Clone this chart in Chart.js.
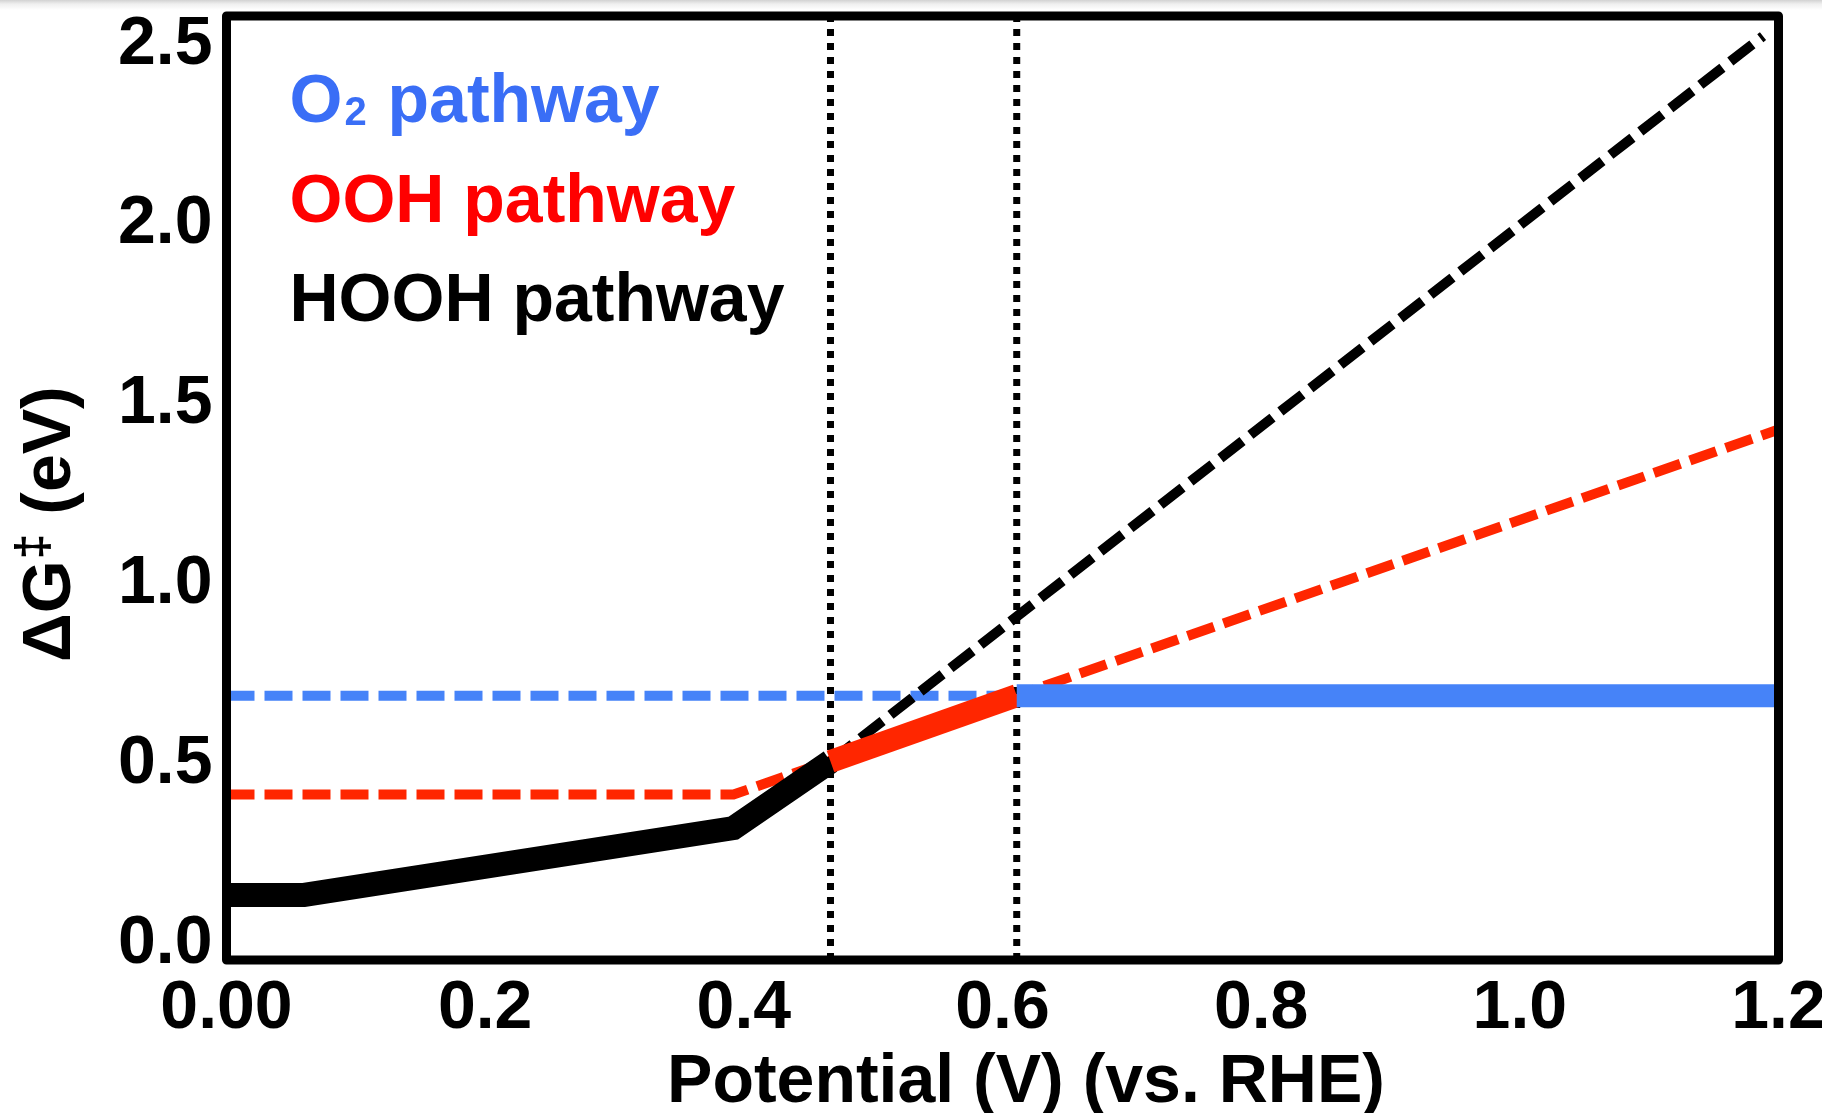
<!DOCTYPE html>
<html>
<head>
<meta charset="utf-8">
<script src="https://cdn.jsdelivr.net/npm/chart.js@4.4.1/dist/chart.umd.min.js"></script>
<style>
    html, body {
        margin: 0;
        padding: 0;
        background: linear-gradient(to bottom, #d2d2d2 0px, #efefef 4px, #ffffff 10px);
    }
    #wrap {
        width: 1822px;
        height: 1113px;
        position: relative;
    }
</style>
</head>
<body>
<div id="wrap"><canvas id="barrierChart"></canvas></div>
<script>
const FONT = '"Liberation Sans", Arial, Helvetica, sans-serif';

// axis limits and ticks
const xMin = 0;
const xMax = 1.2;
const yMin = -0.045;
const yMax = 2.58;
const xTickValues = [0, 0.2, 0.4, 0.6, 0.8, 1.0, 1.2];
const xTickLabels = ['0.00', '0.2', '0.4', '0.6', '0.8', '1.0', '1.2'];
const yTickValues = [0, 0.5, 1.0, 1.5, 2.0, 2.5];
const yTickLabels = ['0.0', '0.5', '1.0', '1.5', '2.0', '2.5'];

// potential (V) / barrier (eV) pairs
const hoohSolidV = [0, 0.06, 0.392, 0.467];
const hoohSolidG = [0.136, 0.136, 0.322, 0.507];
const hoohDashV = [0.467, 1.188];
const hoohDashG = [0.507, 2.524];
const oohSolidV = [0.467, 0.611];
const oohSolidG = [0.507, 0.69];
const oohDashV = [0, 0.392, 1.2];
const oohDashG = [0.415, 0.415, 1.43];
const o2SolidV = [0.611, 1.2];
const o2SolidG = [0.69, 0.69];
const o2DashV = [0, 0.611];
const o2DashG = [0.69, 0.69];
const crossoverV = [0.467, 0.611];

const pathwayNames = ['O2', 'OOH', 'HOOH'];
const pathwayColors = ['#3a6ef6', '#ff0000', '#000000'];

const BLUE = '#4683f8';
const RED = '#ff2600';
const BLACK = '#000000';

const pts = (xs, ys) => xs.map((x, i) => ({ x, y: ys[i] }));

function series(xs, ys, color, width, dash) {
    return {
        data: pts(xs, ys),
        borderColor: color,
        backgroundColor: color,
        borderWidth: width,
        borderDash: dash || [],
        borderCapStyle: 'butt',
        borderJoinStyle: 'miter',
        pointRadius: 0,
        fill: false,
        tension: 0,
    };
}

// frame, legend text and axis titles
const annotate = {
    id: 'annotate',
    afterDatasetsDraw(chart) {
        const { ctx, chartArea: a } = chart;
        ctx.save();
        ctx.strokeStyle = '#000';
        ctx.lineWidth = 9;
        ctx.lineJoin = 'round';
        ctx.strokeRect(a.left, a.top, a.right - a.left, a.bottom - a.top);

        ctx.textAlign = 'left';
        ctx.textBaseline = 'alphabetic';

        // pathway labels, digits drawn as subscripts
        pathwayNames.forEach((name, i) => {
            let x = a.left + 63;
            const y = a.top + 106 + i * 99.5;
            ctx.fillStyle = pathwayColors[i];
            name.split(/(\d+)/).filter(Boolean).forEach((part) => {
                if (/^\d+$/.test(part)) {
                    ctx.font = `bold 40px ${FONT}`;
                    ctx.fillText(part, x + 2, y + 3);
                    x += ctx.measureText(part).width + 4;
                } else {
                    ctx.font = `bold 68px ${FONT}`;
                    ctx.fillText(part, x, y);
                    x += ctx.measureText(part).width;
                }
            });
            ctx.font = `bold 68px ${FONT}`;
            ctx.fillText(' pathway', x, y);
        });

        // x title
        ctx.fillStyle = '#000';
        ctx.font = `bold 68px ${FONT}`;
        ctx.textAlign = 'center';
        ctx.fillText('Potential (V) (vs. RHE)', 1026, 1102);

        // y title, rotated
        ctx.save();
        ctx.translate(70, 662);
        ctx.rotate(-Math.PI / 2);
        ctx.textAlign = 'left';
        let x = 0;
        ctx.font = `bold 68px ${FONT}`;
        ctx.fillText('ΔG', x, 0);
        x += ctx.measureText('ΔG').width + 1;
        ctx.font = `bold 46px ${FONT}`;
        ctx.fillText('‡', x, -22);
        x += ctx.measureText('‡').width;
        ctx.font = `bold 68px ${FONT}`;
        ctx.fillText(' (eV)', x, 0);
        ctx.restore();

        ctx.restore();
    },
};

const canvas = document.getElementById('barrierChart');

new Chart(canvas, {
    type: 'line',
    data: {
        datasets: [
            series(o2SolidV, o2SolidG, BLUE, 23),
            series(oohSolidV, oohSolidG, RED, 23),
            series(hoohSolidV, hoohSolidG, BLACK, 24),
            series([crossoverV[0], crossoverV[0]], [yMin, yMax], BLACK, 7, [7, 7]),
            series([crossoverV[1], crossoverV[1]], [yMin, yMax], BLACK, 7, [7, 7]),
            series(hoohDashV, hoohDashG, BLACK, 10, [28, 10]),
            series(oohDashV, oohDashG, RED, 10, [28, 10]),
            series(o2DashV, o2DashG, BLUE, 10, [28, 10]),
        ],
    },
    options: {
        responsive: true,
        maintainAspectRatio: false,
        animation: false,
        layout: { padding: { left: 0, right: 43.5, top: 16, bottom: 0 } },
        plugins: {
            legend: { display: false },
            tooltip: { enabled: false },
        },
        scales: {
            x: {
                type: 'linear',
                min: xMin,
                max: xMax,
                grid: { display: false, drawTicks: false },
                border: { display: false },
                afterBuildTicks: (s) => { s.ticks = xTickValues.map((v) => ({ value: v })); },
                afterFit: (s) => { s.height = 153; s.paddingLeft = 0; s.paddingRight = 0; },
                ticks: {
                    padding: 8,
                    color: '#000',
                    autoSkip: false,
                    maxRotation: 0,
                    font: { family: FONT, size: 68, weight: 'bold' },
                    callback: (value, i) => xTickLabels[i],
                },
            },
            y: {
                type: 'linear',
                min: yMin,
                max: yMax,
                grid: { display: false, drawTicks: false },
                border: { display: false },
                afterBuildTicks: (s) => { s.ticks = yTickValues.map((v) => ({ value: v })); },
                afterFit: (s) => { s.width = 226.5; s.paddingTop = 0; s.paddingBottom = 0; },
                ticks: {
                    padding: 14,
                    color: '#000',
                    autoSkip: false,
                    font: { family: FONT, size: 68, weight: 'bold' },
                    callback: (value, i) => yTickLabels[i],
                },
            },
        },
    },
    plugins: [annotate],
});
</script>
</body>
</html>
